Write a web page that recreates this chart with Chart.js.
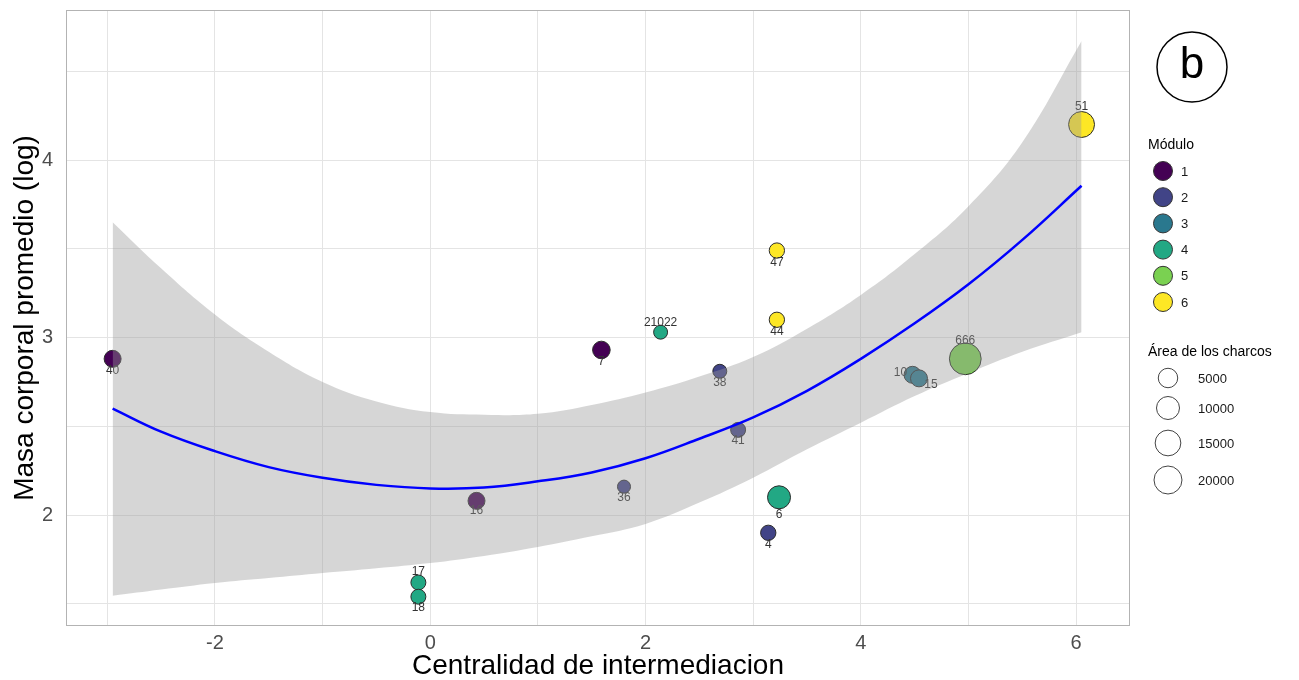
<!DOCTYPE html>
<html>
<head>
<meta charset="utf-8">
<script src="https://cdn.jsdelivr.net/npm/chart.js@4.4.1/dist/chart.umd.min.js"></script>
<style>
  html, body { margin: 0; padding: 0; background: #fff; }
  #wrap { width: 1299px; height: 680px; }
</style>
</head>
<body>
<div id="wrap"><canvas id="chart" width="1299" height="680"></canvas></div>
<script>
// nodes (ponds) of the network
const nodeLabels = ['40', '7', '16', '21022', '38', '36', '41', '17', '18', '4', '6', '47', '44', '10', '15', '666', '51'];
const betweenness = [-2.95, 1.59, 0.43, 2.14, 2.69, 1.80, 2.86, -0.11, -0.11, 3.14, 3.24, 3.22, 3.22, 4.48, 4.54, 4.97, 6.05];
const bodyMass = [2.88, 2.93, 2.08, 3.03, 2.81, 2.16, 2.48, 1.62, 1.54, 1.90, 2.10, 3.49, 3.10, 2.79, 2.77, 2.88, 4.20];
const modules = [1, 1, 1, 4, 2, 2, 2, 4, 4, 2, 4, 6, 6, 3, 3, 5, 6];
const pondArea = [2500, 3000, 2500, 600, 600, 300, 1100, 1100, 1100, 1300, 10000, 1300, 1300, 2500, 2500, 30000, 15500];

// quadratic fit + confidence band
const fitX = [-2.95, -2.5, -2, -1.5, -1, -0.5, 0, 0.5, 1, 1.5, 2, 2.5, 3, 3.5, 4, 4.5, 5, 5.5, 6.05];
const fitY = [2.60, 2.47, 2.36, 2.27, 2.21, 2.17, 2.15, 2.155, 2.19, 2.24, 2.32, 2.43, 2.55, 2.70, 2.88, 3.08, 3.30, 3.55, 3.855];
const ciUpper = [3.65, 3.39, 3.13, 2.92, 2.75, 2.64, 2.58, 2.565, 2.57, 2.62, 2.69, 2.78, 2.89, 3.05, 3.24, 3.47, 3.74, 4.10, 4.67];
const ciLower = [1.545, 1.58, 1.617, 1.645, 1.673, 1.70, 1.73, 1.77, 1.82, 1.88, 1.95, 2.07, 2.21, 2.37, 2.52, 2.67, 2.80, 2.92, 3.03];

// axes / legend
const xGridValues = [-3, -2, -1, 0, 1, 2, 3, 4, 5, 6];
const xTickLabels = [-2, 0, 2, 4, 6];
const yGridValues = [1.5, 2, 2.5, 3, 3.5, 4, 4.5];
const yTickLabels = [2, 3, 4];
const moduleNames = ['1', '2', '3', '4', '5', '6'];
const areaBreaks = [5000, 10000, 15000, 20000];

const FONT = '"Liberation Sans", Arial, sans-serif';
const moduleColors = ['#440154', '#414487', '#2A788E', '#22A884', '#7AD151', '#FDE725'];
const radiusFor = (area) => 5.5 + 0.06 * Math.sqrt(area);

// where each text label sits relative to its point (px)
const labelNudge = {
  '40': [0, 12], '7': [0, 12], '16': [0, 10], '21022': [0, -10], '38': [0, 11],
  '36': [0, 11], '41': [0, 11], '17': [0, -11], '18': [0, 11], '4': [0, 12],
  '6': [0, 17], '47': [0, 12], '44': [0, 12], '10': [-12, -2], '15': [12, 6],
  '666': [0, -18], '51': [0, -18],
};

const pointLabels = {
  id: 'pointLabels',
  afterDatasetDraw(chart, args) {
    if (args.index !== 0) return;
    const { ctx } = chart;
    ctx.save();
    ctx.font = `12px ${FONT}`;
    ctx.fillStyle = '#333';
    ctx.textAlign = 'center';
    ctx.textBaseline = 'middle';
    args.meta.data.forEach((pt, i) => {
      const [dx, dy] = labelNudge[nodeLabels[i]] || [0, 12];
      ctx.fillText(nodeLabels[i], pt.x + dx, pt.y + dy);
    });
    ctx.restore();
  },
};

const frameAndLegend = {
  id: 'frameAndLegend',
  afterDraw(chart) {
    const { ctx, chartArea: a } = chart;
    ctx.save();
    ctx.strokeStyle = '#b3b3b3';
    ctx.lineWidth = 1;
    ctx.strokeRect(a.left + 0.5, a.top + 0.5, a.right - a.left - 1, a.bottom - a.top - 1);

    // "b" panel tag
    ctx.strokeStyle = '#000';
    ctx.lineWidth = 1.5;
    ctx.beginPath();
    ctx.arc(1192, 67, 35, 0, Math.PI * 2);
    ctx.stroke();
    ctx.fillStyle = '#000';
    ctx.font = `44px ${FONT}`;
    ctx.textAlign = 'center';
    ctx.textBaseline = 'middle';
    ctx.fillText('b', 1192, 66);

    // module legend
    ctx.textAlign = 'left';
    ctx.font = `14px ${FONT}`;
    ctx.fillStyle = '#000';
    ctx.fillText('Módulo', 1148, 145);
    ctx.font = `13px ${FONT}`;
    moduleNames.forEach((name, i) => {
      const y = 171 + i * 26.2;
      ctx.beginPath();
      ctx.arc(1163, y, 9.5, 0, Math.PI * 2);
      ctx.fillStyle = moduleColors[i];
      ctx.fill();
      ctx.strokeStyle = '#333';
      ctx.lineWidth = 1;
      ctx.stroke();
      ctx.fillStyle = '#1a1a1a';
      ctx.fillText(name, 1181, y + 1);
    });

    // size legend
    ctx.font = `14px ${FONT}`;
    ctx.fillStyle = '#000';
    ctx.fillText('Área de los charcos', 1148, 352);
    ctx.font = `13px ${FONT}`;
    const ys = [378, 408, 443, 480];
    areaBreaks.forEach((v, i) => {
      ctx.beginPath();
      ctx.arc(1168, ys[i], radiusFor(v), 0, Math.PI * 2);
      ctx.strokeStyle = '#444';
      ctx.lineWidth = 1;
      ctx.stroke();
      ctx.fillStyle = '#1a1a1a';
      ctx.fillText(String(v), 1198, ys[i] + 1);
    });
    ctx.restore();
  },
};

const points = nodeLabels.map((_, i) => ({ x: betweenness[i], y: bodyMass[i] }));
const toXY = (ys) => fitX.map((x, i) => ({ x, y: ys[i] }));

new Chart(document.getElementById('chart'), {
  type: 'line',
  data: {
    datasets: [
      {
        label: 'charcos',
        data: points,
        showLine: false,
        backgroundColor: modules.map((m) => moduleColors[m - 1]),
        borderColor: '#2b2b2b',
        borderWidth: 1,
        pointRadius: pondArea.map(radiusFor),
        pointHoverRadius: pondArea.map(radiusFor),
        order: 3,
      },
      {
        label: 'upper',
        data: toXY(ciUpper),
        borderWidth: 0,
        borderColor: 'rgba(0,0,0,0)',
        backgroundColor: 'rgba(153,153,153,0.4)',
        pointRadius: 0,
        fill: '+1',
        tension: 0.4,
        order: 2,
      },
      {
        label: 'lower',
        data: toXY(ciLower),
        borderWidth: 0,
        borderColor: 'rgba(0,0,0,0)',
        pointRadius: 0,
        fill: false,
        tension: 0.4,
        order: 2,
      },
      {
        label: 'fit',
        data: toXY(fitY),
        borderColor: '#0000ff',
        borderWidth: 2.5,
        pointRadius: 0,
        fill: false,
        tension: 0.4,
        order: 1,
      },
    ],
  },
  options: {
    responsive: false,
    animation: false,
    events: [],
    layout: { autoPadding: false, padding: { left: 0, top: 10, right: 169, bottom: 0 } },
    plugins: { legend: { display: false }, tooltip: { enabled: false } },
    scales: {
      x: {
        type: 'linear',
        min: -3.383,
        max: 6.5,
        afterBuildTicks: (s) => { s.ticks = xGridValues.map((v) => ({ value: v })); },
        afterFit: (s) => { s.height = 54; s.paddingLeft = 0; s.paddingRight = 0; },
        ticks: {
          autoSkip: false,
          maxRotation: 0,
          padding: 5,
          color: '#4d4d4d',
          font: { size: 20, family: FONT },
          callback: (v) => (xTickLabels.includes(v) ? String(v) : ''),
        },
        grid: { color: '#e4e4e4', lineWidth: 1, drawTicks: false },
        border: { display: false },
        title: {
          display: true,
          text: 'Centralidad de intermediacion',
          color: '#000',
          font: { size: 28, family: FONT, lineHeight: 1 },
          padding: { top: 0, bottom: 0 },
        },
      },
      y: {
        type: 'linear',
        min: 1.375,
        max: 4.845,
        afterBuildTicks: (s) => { s.ticks = yGridValues.map((v) => ({ value: v })); },
        afterFit: (s) => { s.width = 66; s.paddingTop = 0; s.paddingBottom = 0; },
        ticks: {
          autoSkip: false,
          padding: 13,
          color: '#4d4d4d',
          font: { size: 20, family: FONT },
          callback: (v) => (yTickLabels.includes(v) ? String(v) : ''),
        },
        grid: { color: '#e4e4e4', lineWidth: 1, drawTicks: false },
        border: { display: false },
        title: {
          display: true,
          text: 'Masa corporal promedio (log)',
          color: '#000',
          font: { size: 28, family: FONT, lineHeight: 1 },
          padding: { top: 11, bottom: 0 },
        },
      },
    },
  },
  plugins: [pointLabels, frameAndLegend],
});
</script>
</body>
</html>
